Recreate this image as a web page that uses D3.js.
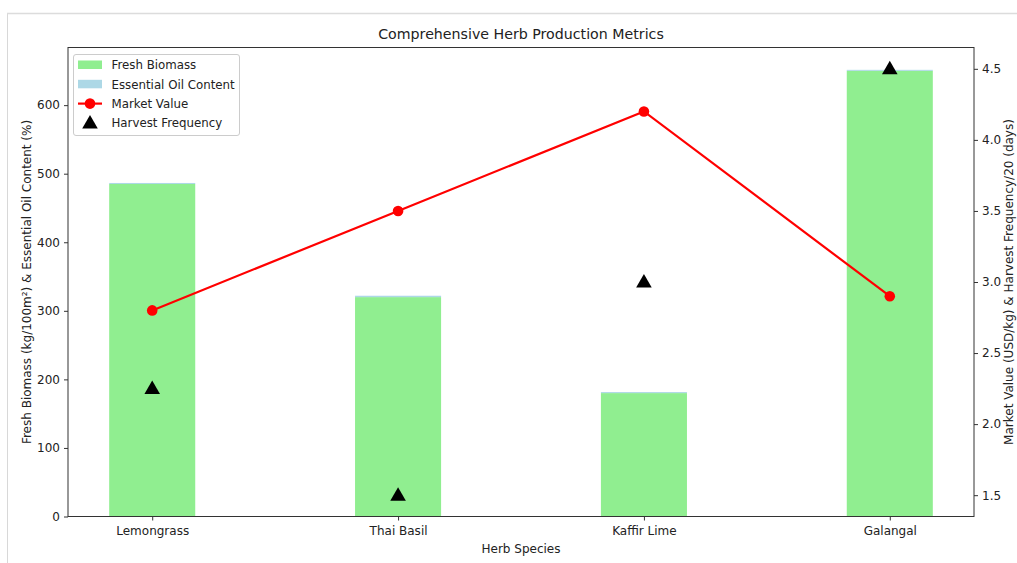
<!DOCTYPE html>
<html><head><meta charset="utf-8">
<script src="https://cdn.jsdelivr.net/npm/d3@7"></script>
<style>body{margin:0;background:#fff;} text{font-family:"DejaVu Sans",sans-serif;fill:#222;}</style>
</head><body>
<svg id="c" width="1017" height="563"></svg>
<script>
const categories = ["Lemongrass", "Thai Basil", "Kaffir Lime", "Galangal"];
const freshBiomass = [485, 320, 180, 650];
const oilContent = [1.5, 2.0, 1.5, 1.5];
const marketValue = [2.8, 3.5, 4.2, 2.9];
const harvestFreqScaled = [2.25, 1.5, 3.0, 4.5];
const leftTicks = [0, 100, 200, 300, 400, 500, 600];
const rightTicks = [1.5, 2.0, 2.5, 3.0, 3.5, 4.0, 4.5];

const svg = d3.select("#c");
// figure frame
svg.append("line").attr("x1",7.5).attr("x2",7.5).attr("y1",13).attr("y2",563).attr("stroke","#d8d8d8").attr("stroke-width",1);
svg.append("line").attr("x1",7).attr("x2",1017).attr("y1",13.5).attr("y2",13.5).attr("stroke","#dcdcdc").attr("stroke-width",1.5);

const L=68, R=974, T=47.5, B=516.5;
const bw = 0.35;
const x = d3.scaleLinear().domain([-0.3425, 3.3425]).range([L, R]);
const totals = freshBiomass.map((v,i)=>v+oilContent[i]);
const yL = d3.scaleLinear().domain([0, d3.max(totals)*1.05]).range([B, T]);
const yR = d3.scaleLinear().domain([1.35, 4.65]).range([B, T]);

const g = svg.append("g");
// bars
g.selectAll(".bio").data(freshBiomass).join("rect")
  .attr("x",(d,i)=>x(i-bw/2)).attr("width",x(bw)-x(0))
  .attr("y",d=>yL(d)).attr("height",d=>yL(0)-yL(d)).attr("fill","#90ee90");
g.selectAll(".oil").data(oilContent).join("rect")
  .attr("x",(d,i)=>x(i-bw/2)).attr("width",x(bw)-x(0))
  .attr("y",(d,i)=>yL(freshBiomass[i]+d)).attr("height",(d,i)=>yL(freshBiomass[i])-yL(freshBiomass[i]+d)).attr("fill","#add8e6");

// line
const line = d3.line().x((d,i)=>x(i)).y(d=>yR(d));
g.append("path").datum(marketValue).attr("d",line).attr("fill","none").attr("stroke","red").attr("stroke-width",2.2);
g.selectAll(".mv").data(marketValue).join("circle").attr("cx",(d,i)=>x(i)).attr("cy",d=>yR(d)).attr("r",5.3).attr("fill","red");

// triangles
const tri = d3.symbol().type(d3.symbolTriangle).size(105);
g.selectAll(".hf").data(harvestFreqScaled).join("path").attr("d",tri)
  .attr("transform",(d,i)=>`translate(${x(i)},${yR(d)+1})`).attr("fill","black");

// axes
const axL = d3.axisLeft(yL).tickValues(leftTicks).tickSize(4).tickPadding(4);
const axR = d3.axisRight(yR).tickValues(rightTicks).tickFormat(d3.format(".1f")).tickSize(4).tickPadding(4);
const axB = d3.axisBottom(x).tickValues([0,1,2,3]).tickFormat(i=>categories[i]).tickSize(4).tickPadding(6);
function style(sel){ sel.selectAll("text").style("font-size","12px").style("font-family","DejaVu Sans").attr("fill","#222");
  sel.selectAll("line").attr("stroke","#333"); sel.select(".domain").remove(); }
svg.append("g").attr("transform",`translate(${L},0)`).call(axL).call(style);
svg.append("g").attr("transform",`translate(${R},0)`).call(axR).call(style);
svg.append("g").attr("transform",`translate(0,${B})`).call(axB).call(style);
svg.append("rect").attr("x",L).attr("y",T).attr("width",R-L).attr("height",B-T).attr("fill","none").attr("stroke","#333").attr("stroke-width",1);

// labels
svg.append("text").attr("x",(L+R)/2).attr("y",39).attr("text-anchor","middle").style("font-size","14.2px").text("Comprehensive Herb Production Metrics");
svg.append("text").attr("x",(L+R)/2).attr("y",553).attr("text-anchor","middle").style("font-size","12px").text("Herb Species");
svg.append("text").attr("transform",`translate(31,${(T+B)/2}) rotate(-90)`).attr("text-anchor","middle").style("font-size","12px").text("Fresh Biomass (kg/100m²) & Essential Oil Content (%)");
svg.append("text").attr("transform",`translate(1013,${(T+B)/2}) rotate(-90)`).attr("text-anchor","middle").style("font-size","12px").text("Market Value (USD/kg) & Harvest Frequency/20 (days)");

// legend
const lg = svg.append("g").attr("transform","translate(73.5,54.5)");
lg.append("rect").attr("width",166).attr("height",81).attr("rx",2.5).attr("fill","white").attr("fill-opacity",0.8).attr("stroke","#ccc");
const names = ["Fresh Biomass","Essential Oil Content","Market Value","Harvest Frequency"];
names.forEach((n,i)=>{
  const cy = 10.5 + i*19.3;
  if(i===0) lg.append("rect").attr("x",4.5).attr("y",cy-4.5).attr("width",24).attr("height",8.5).attr("fill","#90ee90");
  if(i===1) lg.append("rect").attr("x",4.5).attr("y",cy-4.5).attr("width",24).attr("height",8.5).attr("fill","#add8e6");
  if(i===2){ lg.append("line").attr("x1",4.5).attr("x2",28.5).attr("y1",cy).attr("y2",cy).attr("stroke","red").attr("stroke-width",2.2);
    lg.append("circle").attr("cx",16.5).attr("cy",cy).attr("r",5.3).attr("fill","red"); }
  if(i===3) lg.append("path").attr("d",tri).attr("transform",`translate(16.5,${cy+1})`).attr("fill","black");
  lg.append("text").attr("x",38).attr("y",cy+4.3).style("font-size","11.8px").text(n);
});
</script>
</body></html>
